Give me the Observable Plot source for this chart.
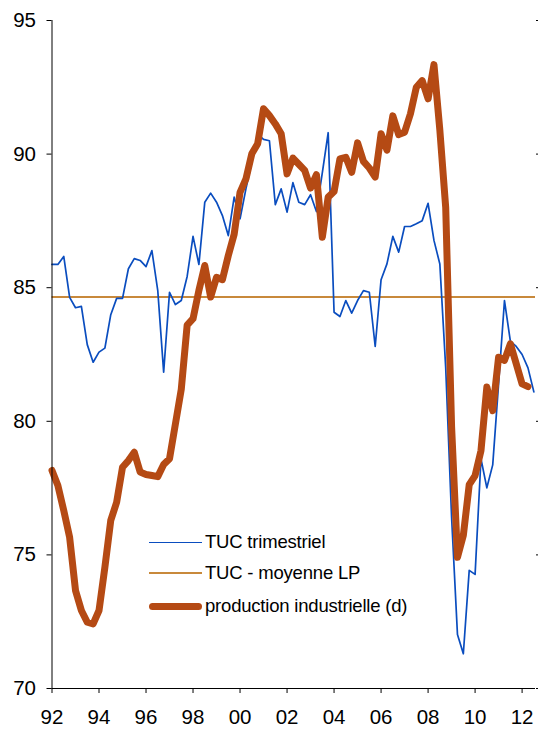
<!DOCTYPE html>
<html>
<head>
<meta charset="utf-8">
<script src="https://cdn.jsdelivr.net/npm/d3@7"></script>
<script src="https://cdn.jsdelivr.net/npm/@observablehq/plot@0.6"></script>
<style>
  html, body { margin: 0; padding: 0; background: #fff; }
  #wrap { position: relative; width: 538px; height: 729px; font-family: "Liberation Sans", Arial, sans-serif; }
  .leg { position: absolute; left: 149px; height: 24px; display: flex; align-items: center; font-size: 18.5px; color: #000; white-space: nowrap; letter-spacing: -0.2px; }
  .sw { display: inline-block; width: 53px; margin-right: 3px; }
</style>
</head>
<body>
<div id="wrap"></div>
<script>
// Quarterly series starting 1992 Q1
const startYear = 1992;
const tucTrimestriel = [
  85.87, 85.87, 86.17, 84.64, 84.25, 84.30, 82.87, 82.21, 82.59, 82.74,
  83.99, 84.60, 84.60, 85.71, 86.09, 86.02, 85.79, 86.39, 84.89, 81.84,
  84.83, 84.37, 84.52, 85.42, 86.92, 85.87, 88.20, 88.54, 88.20, 87.70,
  86.95, 88.39, 87.58, 88.70, 89.70, 90.75, 90.55, 90.50, 88.11, 88.70,
  87.83, 88.93, 88.20, 88.11, 88.48, 87.85, 89.30, 90.80, 84.08, 83.92,
  84.52, 84.05, 84.52, 84.89, 84.83, 82.80, 85.30, 85.89, 86.92, 86.33,
  87.29, 87.29, 87.39, 87.51, 88.16, 86.77, 85.89, 82.00, 76.41, 72.02,
  71.30, 74.42, 74.27, 78.60, 77.51, 78.37, 81.40, 84.52, 83.00, 82.80,
  82.50, 82.00, 81.10
];
const productionIndustrielle = [
  78.16, 77.60, 76.66, 75.66, 73.67, 72.92, 72.48, 72.42, 72.92, 74.54,
  76.29, 76.97, 78.28, 78.53, 78.84, 78.10, 78.01, 77.97, 77.93, 78.38,
  78.60, 79.90, 81.20, 83.60, 83.84, 84.90, 85.83, 84.65, 85.39, 85.30,
  86.20, 87.00, 88.57, 89.07, 90.01, 90.39, 91.70, 91.44, 91.13, 90.76,
  89.26, 89.85, 89.62, 89.39, 88.73, 89.23, 86.89, 88.39, 88.60, 89.82,
  89.88, 89.32, 90.42, 89.73, 89.48, 89.14, 90.76, 90.15, 91.43, 90.73,
  90.82, 91.51, 92.50, 92.75, 92.07, 93.35, 90.90, 88.00, 79.80, 74.91,
  75.73, 77.63, 77.97, 78.90, 81.28, 80.40, 82.40, 82.28, 82.90, 82.15,
  81.40, 81.30
];
const tucMoyenneLP = 84.65;
const xTicks = [1992, 1994, 1996, 1998, 2000, 2002, 2004, 2006, 2008, 2010, 2012];
const xTickLabels = ["92", "94", "96", "98", "00", "02", "04", "06", "08", "10", "12"];
const yTicks = [70, 75, 80, 85, 90, 95];
const seriesNames = ["TUC trimestriel", "TUC - moyenne LP", "production industrielle (d)"];
const seriesColors = ["#0A4DBF", "#C8893B", "#B54A14"];

const tucData = tucTrimestriel.map((v, i) => ({date: startYear + i / 4, value: v}));
const prodData = productionIndustrielle.map((v, i) => ({date: startYear + i / 4, value: v}));

const chart = Plot.plot({
  width: 538,
  height: 729,
  marginLeft: 51.5,
  marginRight: 3,
  marginTop: 20,
  marginBottom: 41,
  style: {fontFamily: "'Liberation Sans', Arial, sans-serif", fontSize: "20.5px", color: "#000", background: "#fff", overflow: "visible"},
  x: {domain: [1992, 2012.57]},
  y: {domain: [70, 95]},
  marks: [
    Plot.ruleY([tucMoyenneLP], {stroke: seriesColors[1], strokeWidth: 2}),
    Plot.line(tucData, {x: "date", y: "value", stroke: seriesColors[0], strokeWidth: 1.7, strokeLinejoin: "round"}),
    Plot.line(prodData, {x: "date", y: "value", stroke: seriesColors[2], strokeWidth: 7, strokeLinejoin: "round", strokeLinecap: "round"}),
    Plot.ruleX([xTicks[0]], {stroke: "#000", strokeWidth: 1}),
    Plot.ruleY([yTicks[0]], {stroke: "#000", strokeWidth: 1}),
    Plot.axisY(yTicks, {anchor: "left", tickSize: 5, tickPadding: 11, label: null}),
    Plot.axisY(yTicks, {anchor: "right", tickSize: 3, tickFormat: () => "", label: null}),
    Plot.axisX(xTicks, {anchor: "bottom", tickSize: 5, tickPadding: 16, tickFormat: d => xTickLabels[xTicks.indexOf(d)], label: null})
  ]
});
const wrap = document.getElementById("wrap");
wrap.appendChild(chart);

// Legend (inside plot area)
const legendTops = [530, 561, 594];
const legendWidths = [1.7, 2, 7];
seriesNames.forEach((name, i) => {
  const row = document.createElement("div");
  row.className = "leg";
  row.style.top = legendTops[i] + "px";
  const sw = document.createElement("span");
  sw.className = "sw";
  sw.style.borderTop = legendWidths[i] + "px solid " + seriesColors[i];
  if (i === 2) sw.style.borderRadius = "4px";
  const t = document.createElement("span");
  t.textContent = name;
  row.appendChild(sw);
  row.appendChild(t);
  wrap.appendChild(row);
});
</script>
</body>
</html>
